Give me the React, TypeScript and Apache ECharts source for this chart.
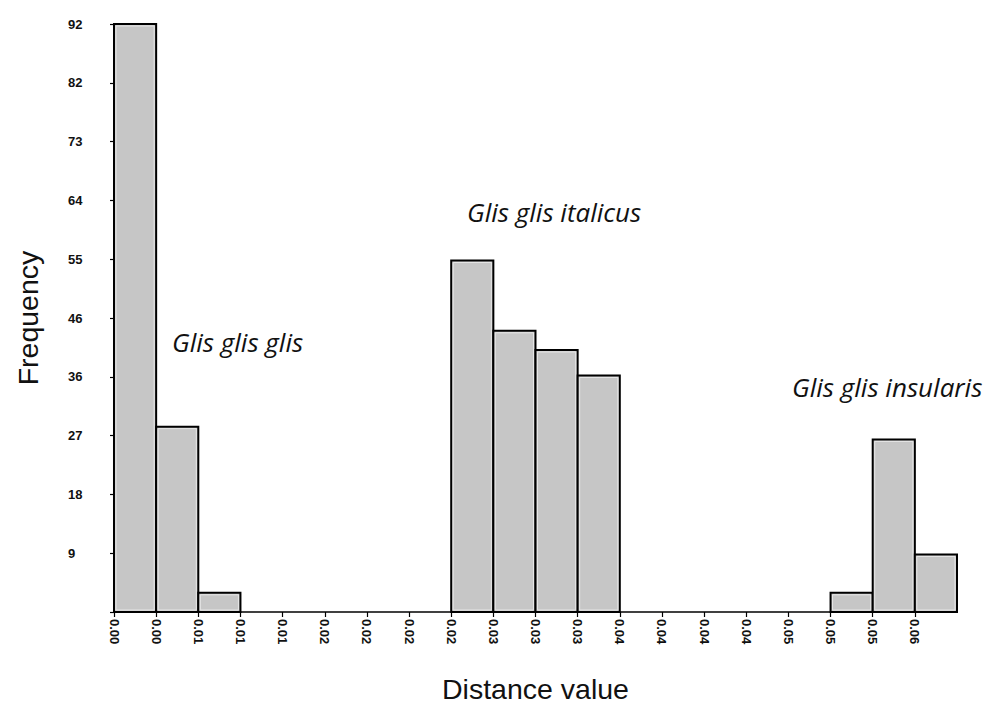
import React, { useEffect, useRef } from "react";
import * as echarts from "echarts";

// Bin edge tick labels (distance value)
const xTickLabels = [
  "0.00", "0.00", "0.01", "0.01", "0.01", "0.02", "0.02", "0.02", "0.02", "0.03",
  "0.03", "0.03", "0.04", "0.04", "0.04", "0.04", "0.05", "0.05", "0.05", "0.06",
];
// Frequency per bin
const frequencies = [92, 29, 3, 0, 0, 0, 0, 0, 55, 44, 41, 37, 0, 0, 0, 0, 0, 3, 27, 9];
// Y tick labels
const yTickLabels = ["", "9", "18", "27", "36", "46", "55", "64", "73", "82", "92"];
const yMax = 92;
const yStep = 9.2;
// Subspecies annotations
const annotations = [
  { text: "Glis glis glis", x: 172, y: 342 },
  { text: "Glis glis italicus", x: 467, y: 212 },
  { text: "Glis glis insularis", x: 792, y: 387 },
];

export default function App() {
  const ref = useRef<HTMLDivElement>(null);
  useEffect(() => {
    if (!ref.current) return;
    const chart = echarts.init(ref.current, undefined, { renderer: "svg" });
    const binCount = frequencies.length;
    const tickIdx = xTickLabels.map((_, i) => i);
    chart.setOption({
      animation: false,
      backgroundColor: "#ffffff",
      grid: { left: 114, right: 38, top: 24, bottom: 91, outerBoundsMode: "none", containLabel: false },
      xAxis: {
        type: "value",
        min: 0,
        max: binCount,
        interval: 1,
        name: "Distance value",
        nameLocation: "middle",
        nameGap: 62,
        nameTextStyle: { fontFamily: "Liberation Sans", fontSize: 28.5, color: "#111" },
        axisLine: { show: true, lineStyle: { color: "#000", width: 1.5 } },
        axisTick: { show: true, customValues: tickIdx, length: 5, lineStyle: { color: "#000", width: 1.2 } },
        axisLabel: {
          customValues: tickIdx,
          rotate: -90,
          margin: 7,
          padding: [0, 0, 8, 0],
          fontFamily: "Liberation Sans",
          fontWeight: "bold",
          fontSize: 13,
          color: "#111",
          formatter: (v: number) => xTickLabels[Math.round(v)] ?? "",
        },
        splitLine: { show: false },
      },
      yAxis: {
        type: "value",
        min: 0,
        max: yMax,
        interval: yStep,
        name: "Frequency",
        nameLocation: "middle",
        nameGap: 72,
        nameTextStyle: { fontFamily: "Liberation Sans", fontSize: 28.5, color: "#111" },
        axisLine: { show: true, lineStyle: { color: "#000", width: 1.5 } },
        axisTick: { show: true, length: 4, lineStyle: { color: "#000", width: 1.2 } },
        axisLabel: {
          align: "left",
          margin: 46,
          padding: [0, 0, 8, 0],
          fontFamily: "Liberation Sans",
          fontWeight: "bold",
          fontSize: 13,
          color: "#111",
          formatter: (v: number) => yTickLabels[Math.round(v / yStep)] ?? "",
        },
        splitLine: { show: false },
      },
      series: [
        {
          type: "custom",
          data: frequencies.map((v, i) => [i, v]),
          encode: { x: 0, y: 1 },
          renderItem: (params: any, api: any) => {
            const i = api.value(0);
            const v = api.value(1);
            if (!v) return null;
            const p0 = api.coord([i, v]);
            const p1 = api.coord([i + 1, 0]);
            const x = p0[0];
            const y = p0[1];
            const w = p1[0] - p0[0];
            const h = p1[1] - p0[1];
            return {
              type: "group",
              children: [
                {
                  type: "rect",
                  shape: { x, y, width: w, height: h },
                  style: { fill: "#c6c6c6", stroke: "#000", lineWidth: 2 },
                },
                {
                  type: "rect",
                  shape: { x: x + 2, y: y + 2, width: Math.max(w - 4, 0), height: Math.max(h - 4, 0) },
                  style: { fill: "none", stroke: "#e6e6e6", lineWidth: 1 },
                },
              ],
            };
          },
        },
      ],
      graphic: annotations.map((a) => ({
        type: "text",
        x: a.x,
        y: a.y,
        style: {
          text: a.text,
          fontFamily: "Open Sans",
          fontStyle: "italic",
          fontSize: 26,
          fill: "#111",
          verticalAlign: "middle",
          align: "left",
        },
      })),
    });
    return () => chart.dispose();
  }, []);
  return (
    <div
      ref={ref}
      style={{ position: "fixed", left: 0, top: 0, width: 995, height: 703, background: "#fff" }}
    />
  );
}
